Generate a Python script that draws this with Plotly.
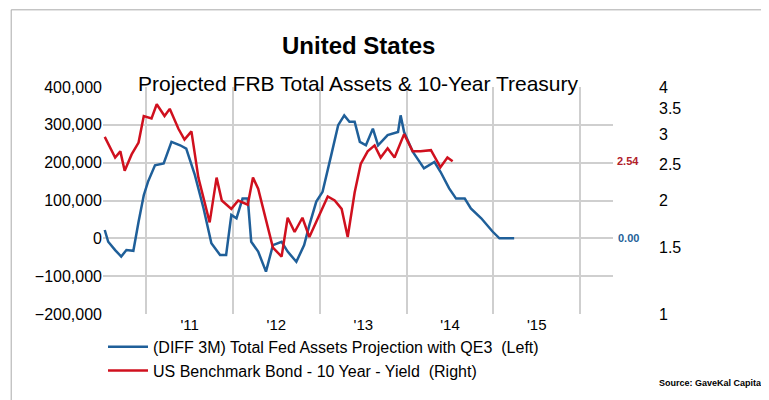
import math
import pandas as pd
import plotly.graph_objects as go

# decimal-year positions
blue_t = [2010.52, 2010.56, 2010.64, 2010.71, 2010.77, 2010.85, 2010.91, 2010.97, 2011.02, 2011.10,
          2011.20, 2011.29, 2011.39, 2011.46, 2011.56, 2011.66, 2011.75, 2011.85, 2011.92, 2011.98,
          2012.04, 2012.11, 2012.17, 2012.21, 2012.29, 2012.38, 2012.46, 2012.56, 2012.63, 2012.73,
          2012.82, 2012.88, 2012.96, 2013.03, 2013.13, 2013.21, 2013.28, 2013.34, 2013.40, 2013.46,
          2013.53, 2013.61, 2013.67, 2013.78, 2013.90, 2013.93, 2013.97, 2014.07, 2014.20, 2014.32,
          2014.39, 2014.49, 2014.57, 2014.67, 2014.74, 2014.86, 2014.99, 2015.07, 2015.24]
blue_v = [22, -9, -31, -48, -31, -33, 44, 114, 150, 193,
          198, 255, 246, 237, 167, 79, -13, -44, -44, 62,
          53, 105, 105, -9, -35, -88, -18, -9, -35, -62,
          -18, 35, 97, 123, 220, 299, 325, 308, 308, 255,
          246, 290, 246, 273, 281, 325, 281, 229, 185, 202,
          176, 132, 105, 105, 79, 53, 18, 0, 0]

red_t = [2010.52, 2010.64, 2010.70, 2010.75, 2010.83, 2010.91, 2010.97, 2011.06, 2011.12, 2011.21,
         2011.27, 2011.37, 2011.44, 2011.52, 2011.60, 2011.67, 2011.73, 2011.81, 2011.87, 2011.98,
         2012.06, 2012.17, 2012.23, 2012.29, 2012.40, 2012.46, 2012.56, 2012.63, 2012.71, 2012.80,
         2012.88, 2012.98, 2013.09, 2013.17, 2013.25, 2013.32, 2013.40, 2013.47, 2013.55, 2013.63,
         2013.70, 2013.78, 2013.86, 2013.97, 2014.07, 2014.16, 2014.28, 2014.39, 2014.47, 2014.53]
red_v = [2.95, 2.6, 2.7, 2.4, 2.65, 2.85, 3.35, 3.3, 3.6, 3.35,
         3.5, 3.1, 2.9, 3.05, 2.3, 2.0, 1.75, 2.3, 2.0, 1.9,
         2.0, 1.95, 2.3, 2.15, 1.7, 1.5, 1.42, 1.8, 1.65, 1.8,
         1.6, 1.8, 2.05, 2.0, 1.9, 1.6, 2.1, 2.5, 2.7, 2.8,
         2.6, 2.75, 2.6, 3.0, 2.7, 2.7, 2.72, 2.45, 2.6, 2.54]

year_labels = ["'11", "'12", "'13", "'14", "'15"]
label_years = [2011, 2012, 2013, 2014, 2015]


def to_date(y):
    yr = int(y)
    start = pd.Timestamp(year=yr, month=1, day=1)
    return start + pd.Timedelta(days=(y - yr) * 365.25)


BLUE = "#1f5f99"
RED = "#d0101e"
FONT = "Liberation Sans, Arial, sans-serif"

fig = go.Figure()
fig.add_trace(go.Scatter(
    x=[to_date(t) for t in blue_t], y=[v * 1000 for v in blue_v], mode="lines",
    name="(DIFF 3M) Total Fed Assets Projection with QE3  (Left)",
    line=dict(color=BLUE, width=2.5),
))
fig.add_trace(go.Scatter(
    x=[to_date(t) for t in red_t], y=red_v, mode="lines", yaxis="y2",
    name="US Benchmark Bond - 10 Year - Yield  (Right)",
    line=dict(color=RED, width=2.5),
))

# log axis: annotation y is given in log10 units
fig.add_annotation(x=1.03, xref="paper", y=math.log10(red_v[-1]), yref="y2", text="<b>2.54</b>",
                   showarrow=False, font=dict(color="#b0202a", size=11, family=FONT), xanchor="center")
fig.add_annotation(x=1.03, xref="paper", y=blue_v[-1] * 1000, yref="y", text="<b>0.00</b>",
                   showarrow=False, font=dict(color=BLUE, size=11, family=FONT), xanchor="center")
fig.add_annotation(x=0.5, xref="paper", y=1.25, yref="paper", text="<b>United States</b>",
                   showarrow=False, font=dict(size=24, family=FONT, color="black"))
fig.add_annotation(x=0.5, xref="paper", y=1.075, yref="paper", text="Projected FRB Total Assets & 10-Year Treasury",
                   showarrow=False, font=dict(size=21, family=FONT, color="black"))
fig.add_annotation(x=1.30, xref="paper", y=-0.335, yref="paper", text="<b>Source: GaveKal Capital</b>",
                   showarrow=False, font=dict(size=9, family=FONT, color="black"), xanchor="right")

fig.update_layout(
    width=769, height=400,
    margin=dict(l=95, r=164, t=79, b=94),
    paper_bgcolor="white", plot_bgcolor="white",
    font=dict(family=FONT, size=16, color="black"),
    showlegend=True,
    legend=dict(x=0.0, y=-0.07, xanchor="left", yanchor="top", font=dict(size=16),
                tracegroupgap=0, itemwidth=40),
    xaxis=dict(
        range=[to_date(2010.5), to_date(2016.38)],
        tickvals=[to_date(y + 0.5) for y in label_years], ticktext=year_labels,
        showgrid=False, ticks="", tickfont=dict(size=15),
        minor=dict(tick0="2011-01-01", dtick="M12", showgrid=True, gridcolor="#cfcfcf", gridwidth=1.5),
        zeroline=False, showline=False,
    ),
    yaxis=dict(
        range=[-200000, 400000], dtick=100000, tickformat=",", gridcolor="#cfcfcf", gridwidth=1.5,
        zeroline=False, tickfont=dict(size=16),
    ),
    yaxis2=dict(
        type="log", range=[0, 0.60206], overlaying="y", side="right",
        tickvals=[1, 1.5, 2, 2.5, 3, 3.5, 4], ticktext=["1", "1.5", "2", "2.5", "3", "3.5", "4"],
        showgrid=False, zeroline=False, ticklabelstandoff=45, tickfont=dict(size=16),
    ),
    shapes=[dict(type="rect", xref="paper", yref="paper", x0=-0.18, x1=1.318, y0=-0.405, y1=1.34,
                 line=dict(color="#aaaaaa", width=1))],
)

fig.write_html("out.html")
